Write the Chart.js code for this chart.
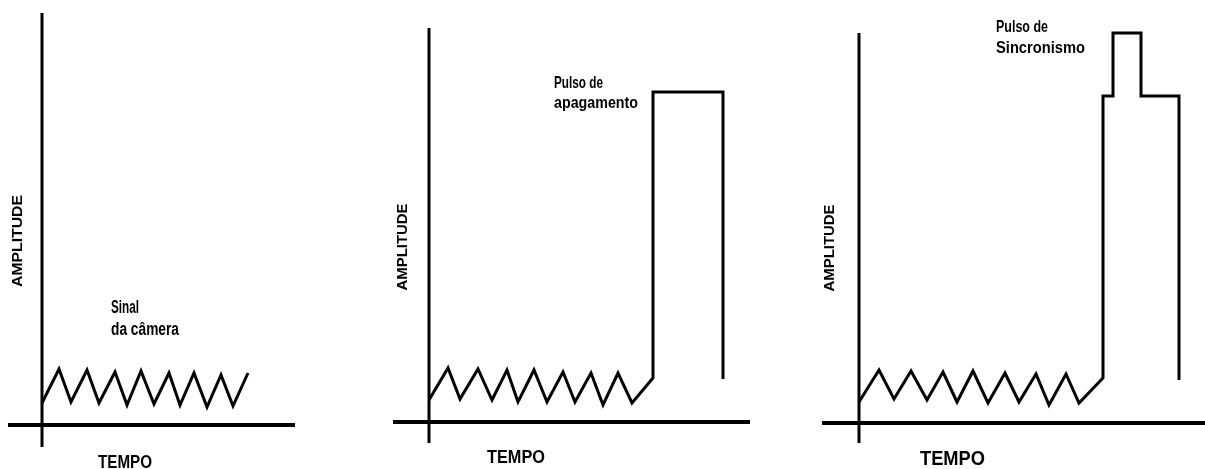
<!DOCTYPE html>
<html><head><meta charset="utf-8">
<script src="https://cdn.jsdelivr.net/npm/chart.js@4"></script>
<style>
html,body{margin:0;padding:0;background:#fff;width:1205px;height:469px;overflow:hidden}
canvas{position:absolute;top:0}
</style></head><body>
<canvas id="c1" style="left:0px" width="300" height="469"></canvas>
<canvas id="c2" style="left:380px" width="400" height="469"></canvas>
<canvas id="c3" style="left:800px" width="405" height="469"></canvas>
<script>
// ---- Panel 1: Sinal da câmera ----
const p1Time = [0, 17, 29, 45, 57, 73, 85, 99, 112, 127, 138, 152, 165, 179, 191, 206];
const p1Amp  = [22, 56, 23, 55, 22, 53, 20, 54, 21, 52, 20, 52, 18, 50, 19, 52];
const p1TimeAxis = [-34, 253];
const p1AmpAxis  = [-22, 412];

// ---- Panel 2: Pulso de apagamento ----
const p2Time = [0, 19, 31, 49, 63, 78, 89, 105, 118, 134, 146, 162, 174, 189, 203, 224, 224, 294, 294];
const p2Amp  = [22, 54, 23, 53, 22, 52, 20, 52, 20, 50, 20, 49, 17, 49, 19, 44, 330, 330, 43];
const p2TimeAxis = [-36, 321];
const p2AmpAxis  = [-21, 394];

// ---- Panel 3: Pulso de sincronismo ----
const p3Time = [0, 20, 35, 52, 68, 84, 98, 114, 129, 146, 160, 177, 190, 207, 220, 244, 244, 254, 254, 282, 282, 320, 320];
const p3Amp  = [21, 53, 24, 52, 23, 51, 21, 52, 20, 50, 21, 49, 18, 49, 20, 45, 327, 327, 390, 390, 327, 327, 43];
const p3TimeAxis = [-37, 346];
const p3AmpAxis  = [-20, 390];

const axisTitleY = 'AMPLITUDE';
const axisTitleX = 'TEMPO';

function pts(ts, as) { return ts.map((t, i) => ({ x: t, y: as[i] })); }

const textPlugin = {
  id: 'panelText',
  afterDatasetsDraw(chart, args, opts) {
    const ctx = chart.ctx, xs = chart.scales.x, ys = chart.scales.y;
    ctx.save();
    ctx.fillStyle = '#000';
    (opts.items || []).forEach(it => {
      const px = xs.getPixelForValue(it.t), py = ys.getPixelForValue(it.a);
      ctx.font = 'bold ' + it.size + 'px "Liberation Sans", Arial, sans-serif';
      const w = ctx.measureText(it.text).width;
      const sx = it.w / w;
      ctx.save();
      ctx.translate(px, py);
      if (it.rot) {
        ctx.rotate(-Math.PI / 2);
        ctx.scale(sx, 1);
        ctx.textAlign = 'center';
        ctx.textBaseline = 'alphabetic';
        ctx.fillText(it.text, 0, it.size * 0.716 / 2);
      } else {
        ctx.scale(sx, 1);
        ctx.textAlign = 'left';
        ctx.textBaseline = 'alphabetic';
        ctx.fillText(it.text, 0, 0);
      }
      ctx.restore();
    });
    ctx.restore();
  }
};

function makePanel(id, sig, tAxis, aAxis, range, items) {
  const line = { borderColor: '#000', pointRadius: 0, showLine: true, clip: false, tension: 0, borderCapStyle: 'butt' };
  new Chart(document.getElementById(id), {
    type: 'scatter',
    data: {
      datasets: [
        Object.assign({ data: [{ x: tAxis[0], y: 0 }, { x: tAxis[1], y: 0 }], borderWidth: 4 }, line),
        Object.assign({ data: [{ x: 0, y: aAxis[0] }, { x: 0, y: aAxis[1] }], borderWidth: 3 }, line),
        Object.assign({ data: sig, borderWidth: 3, borderJoinStyle: 'miter' }, line)
      ]
    },
    options: {
      responsive: false, animation: false,
      layout: { padding: 0 },
      scales: {
        x: { type: 'linear', display: false, min: range[0], max: range[1] },
        y: { type: 'linear', display: false, min: range[2], max: range[3] }
      },
      plugins: { legend: { display: false }, tooltip: { enabled: false }, panelText: { items } }
    },
    plugins: [textPlugin]
  });
}

makePanel('c1', pts(p1Time, p1Amp), p1TimeAxis, p1AmpAxis, [-42, 258, -44, 425], [
  { text: axisTitleY, t: -25, a: 184, size: 15, w: 92, rot: true },
  { text: axisTitleX, t: 56, a: -43, size: 18, w: 54 },
  { text: 'Sinal', t: 69, a: 112, size: 17.5, w: 28 },
  { text: 'da câmera', t: 69, a: 90, size: 17.5, w: 68 }
]);
makePanel('c2', pts(p2Time, p2Amp), p2TimeAxis, p2AmpAxis, [-49, 351, -47, 422], [
  { text: axisTitleY, t: -27, a: 175, size: 15, w: 87, rot: true },
  { text: axisTitleX, t: 58, a: -41, size: 18, w: 58 },
  { text: 'Pulso de', t: 125, a: 334, size: 16.5, w: 49 },
  { text: 'apagamento', t: 125, a: 314, size: 16.5, w: 84 }
]);
makePanel('c3', pts(p3Time, p3Amp), p3TimeAxis, p3AmpAxis, [-59, 346, -46, 423], [
  { text: axisTitleY, t: -30, a: 175, size: 15, w: 87, rot: true },
  { text: axisTitleX, t: 61, a: -42, size: 20, w: 65 },
  { text: 'Pulso de', t: 137, a: 391, size: 16.5, w: 52 },
  { text: 'Sincronismo', t: 137, a: 370, size: 16.5, w: 89 }
]);
</script>
</body></html>
